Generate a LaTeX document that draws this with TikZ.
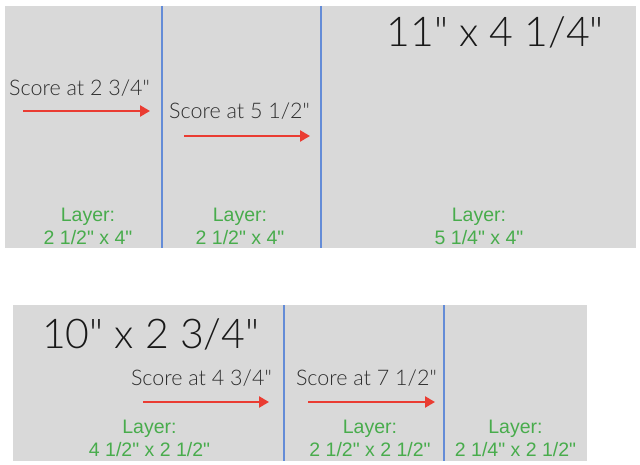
\documentclass[tikz,border=0pt]{standalone}
\usepackage{fontspec}
\setmainfont{Lato}
\newfontfamily\latolight{Lato Light}
\newfontfamily\arialf{Liberation Sans}
\usetikzlibrary{arrows.meta}
\newcommand{\inchmark}{\char34\relax}
\definecolor{panelgray}{RGB}{217,217,217}
\definecolor{foldblue}{RGB}{100,140,215}
\definecolor{arrowred}{RGB}{234,60,50}
\definecolor{layergreen}{RGB}{72,172,76}
\definecolor{scoregray}{RGB}{45,45,45}
\tikzset{
  panel/.style={fill=panelgray, draw=none},
  fold/.style={draw=foldblue, line width=1.1pt},
  scorearrow/.style={draw=arrowred, line width=2.6pt, -{Triangle[length=10pt,width=11pt]}},
  scorelabel/.style={font=\latolight\fontsize{21.5}{25}\selectfont, text=scoregray, inner sep=0pt},
  titlelabel/.style={font=\latolight\fontsize{41}{48}\selectfont, text=black!90, inner sep=0pt},
  layerlabel/.style={font=\arialf\fontsize{19.5}{23}\selectfont, text=layergreen, inner sep=0pt, align=center}
}
\begin{document}
\begin{tikzpicture}[x=1pt,y=-1pt]
\useasboundingbox (0,0) rectangle (640,465);
% top sheet
\path[panel] (5,6) rectangle (636,248);
\coordinate (t1a) at (162,6); \coordinate (t1b) at (162,248);
\coordinate (t2a) at (321,6); \coordinate (t2b) at (321,248);
\draw[fold] (t1a) -- (t1b);
\draw[fold] (t2a) -- (t2b);
\node[titlelabel, anchor=east] (ttitle) at (604,32) {11\inchmark{} x 4 1/4\inchmark};
\node[scorelabel, anchor=west] (ts1) at (9,88) {Score at 2 3/4\inchmark};
\node[scorelabel, anchor=west] (ts2) at (169,111) {Score at 5 1/2\inchmark};
\coordinate (ta1s) at (23,111); \coordinate (ta1e) at (150,111);
\coordinate (ta2s) at (184,136); \coordinate (ta2e) at (310,136);
\draw[scorearrow] (ta1s) -- (ta1e);
\draw[scorearrow] (ta2s) -- (ta2e);
\node[layerlabel] (tl1) at (88,226) {Layer:\\2 1/2" x 4"};
\node[layerlabel] (tl2) at (240,226) {Layer:\\2 1/2" x 4"};
\node[layerlabel] (tl3) at (479,226) {Layer:\\5 1/4" x 4"};
% bottom sheet
\path[panel] (13,305) rectangle (587,461);
\coordinate (b1a) at (284,305); \coordinate (b1b) at (284,461);
\coordinate (b2a) at (444,305); \coordinate (b2b) at (444,461);
\draw[fold] (b1a) -- (b1b);
\draw[fold] (b2a) -- (b2b);
\node[titlelabel, anchor=west] (btitle) at (42,334) {10\inchmark{} x 2 3/4\inchmark};
\node[scorelabel, anchor=east] (bs1) at (272,378) {Score at 4 3/4\inchmark};
\node[scorelabel, anchor=east] (bs2) at (437,378) {Score at 7 1/2\inchmark};
\coordinate (ba1s) at (143,402); \coordinate (ba1e) at (269,402);
\coordinate (ba2s) at (308,402); \coordinate (ba2e) at (435,402);
\draw[scorearrow] (ba1s) -- (ba1e);
\draw[scorearrow] (ba2s) -- (ba2e);
\node[layerlabel] (bl1) at (149.5,438.5) {Layer:\\4 1/2" x 2 1/2"};
\node[layerlabel] (bl2) at (370,438.5) {Layer:\\2 1/2" x 2 1/2"};
\node[layerlabel] (bl3) at (515.5,438.5) {Layer:\\2 1/4" x 2 1/2"};
\end{tikzpicture}
\end{document}
